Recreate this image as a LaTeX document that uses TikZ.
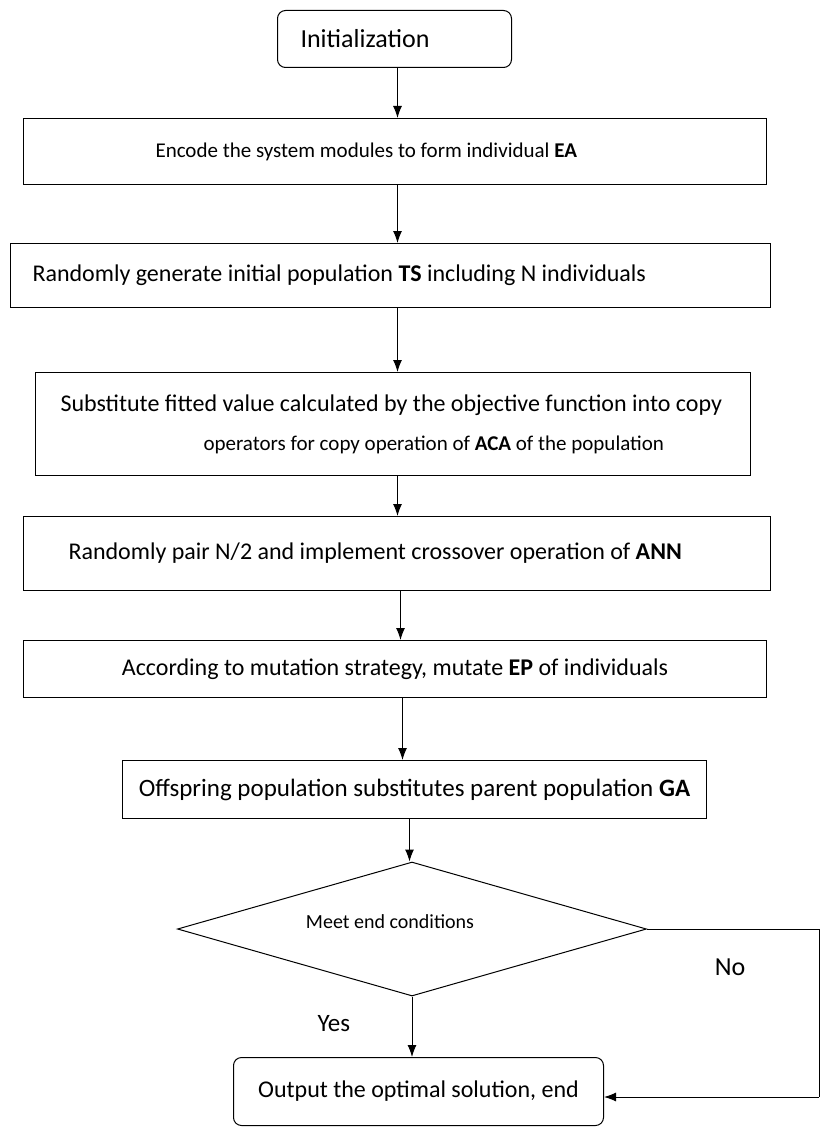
\documentclass[tikz,border=0pt]{standalone}
\usepackage{fontspec}
\setmainfont{Carlito}
\usetikzlibrary{shapes.geometric, arrows.meta}
\tikzstyle{startstop} = [rectangle, rounded corners=8pt, draw, line width=1pt, inner sep=0pt, font=\fontsize{24}{28}\selectfont]
\tikzstyle{process} = [rectangle, draw, line width=1pt, inner ysep=0pt, align=center, anchor=north west, font=\fontsize{24}{28}\selectfont]
\tikzstyle{decision} = [diamond, draw, line width=1pt, inner sep=0pt, aspect=3.5, minimum width=469pt, minimum height=134pt]
\tikzstyle{arrow} = [line width=1pt, -{Latex[length=12pt, width=9pt]}]
\tikzstyle{line} = [line width=1pt]

\begin{document}
\begin{tikzpicture}[x=1pt, y=-1pt]
    \useasboundingbox (0,0) rectangle (820,1129);
    \node [startstop, anchor=north west, minimum width=234pt, minimum height=57pt, align=flush left, text width=188pt, inner xsep=23pt, font=\fontsize{26}{30}\selectfont] at (277,10) (init) {Initialization};
    \node [process, minimum width=743pt, minimum height=66pt, align=flush left, text width=479pt, inner xsep=132pt, font=\fontsize{21}{25}\selectfont] at (23,118) (encode) {Encode the system modules to form individual \textbf{EA}};
    \node [process, minimum width=760pt, minimum height=64pt, align=flush left, text width=716pt, inner xsep=22pt] at (10,243) (generate) {Randomly generate initial population \textbf{TS} including N individuals};
    \node [process, minimum width=715pt, minimum height=103pt, align=flush left, text width=665pt, inner xsep=25pt, font=\fontsize{24}{39}\selectfont] at (35,372) (copy) {Substitute fitted value calculated by the objective function into copy\\\hspace*{143pt}{\fontsize{21}{39}\selectfont operators for copy operation of \textbf{ACA} of the population}};
    \node [process, minimum width=747pt, minimum height=74pt, align=flush left, text width=657pt, inner xsep=45pt] at (23,516) (cross) {Randomly pair N/2 and implement crossover operation of \textbf{ANN}};
    \node [process, minimum width=743pt, minimum height=57pt] at (23,640) (mutate) {According to mutation strategy, mutate \textbf{EP} of individuals};
    \node [process, minimum width=584pt, minimum height=58pt, font=\fontsize{25}{29}\selectfont] at (122,760) (offspring) {Offspring population substitutes parent population \textbf{GA}};
    \node [decision] at (412,929) (cond) {};
    \node [font=\fontsize{20}{24}\selectfont] at (390,922) (condtext) {Meet end conditions};
    \node [startstop, anchor=north west, minimum width=370pt, minimum height=68pt] at (233,1057) (output) {Output the optimal solution, end};
    \coordinate (c1) at (819,929);
    \coordinate (c2) at (819,1097);
    \draw [arrow] ([xshift=3pt]init.south) -- ([xshift=3pt]init.south |- encode.north);
    \draw [arrow] ([xshift=3pt]init.south |- encode.south) -- ([xshift=3pt]init.south |- generate.north);
    \draw [arrow] ([xshift=3pt]init.south |- generate.south) -- ([xshift=3pt]init.south |- copy.north);
    \draw [arrow] ([xshift=3pt]init.south |- copy.south) -- ([xshift=3pt]init.south |- cross.north);
    \draw [arrow] ([xshift=6pt]init.south |- cross.south) -- ([xshift=6pt]init.south |- mutate.north);
    \draw [arrow] ([xshift=8pt]init.south |- mutate.south) -- ([xshift=8pt]init.south |- offspring.north);
    \draw [arrow] ([xshift=-5pt]offspring.south) -- ([xshift=-5pt]offspring.south |- cond.north);
    \draw [arrow] (cond.south) -- node[pos=0.45, left=58pt, font=\fontsize{25}{29}\selectfont] {Yes} (cond.south |- output.north);
    \draw [line] (cond.east) -- (c1) -- (c2);
    \draw [arrow] (c2) -- (output.east |- c2);
    \node [font=\fontsize{26}{30}\selectfont] at (730,967) (no) {No};
\end{tikzpicture}
\end{document}
